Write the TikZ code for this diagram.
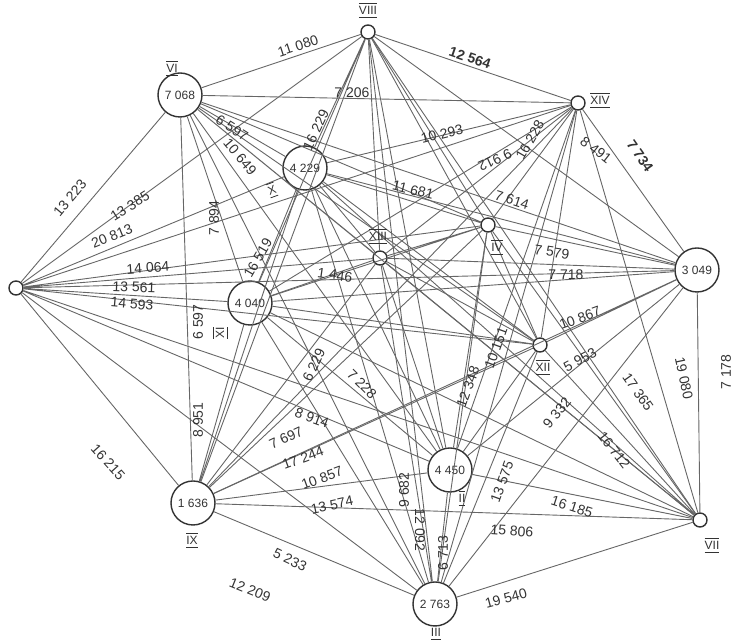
\documentclass[tikz,border=0pt]{standalone}
\usepackage{fontspec}
\setmainfont{Liberation Sans}
\usetikzlibrary{positioning}

\newcommand{\rnum}[1]{$\underline{\overline{\mbox{#1}}}$}

\begin{document}
\begin{tikzpicture}[x=0.5pt,y=-0.5pt, font=\fontsize{7}{8}\selectfont,
  big/.style={circle,draw=black!80,line width=0.7pt,fill=white,minimum size=22pt,inner sep=0pt,font=\fontsize{6}{7}\selectfont,text=black!80},
  dot/.style={circle,draw=black!80,line width=0.7pt,fill=white,minimum size=7pt,inner sep=0pt},
  ed/.style={draw=black!60,line width=0.45pt},
  wt/.style={inner sep=0.5pt,text=black!80},
  rn/.style={inner sep=0.5pt,text=black!80,font=\fontsize{6}{7}\selectfont}]
 \useasboundingbox (0,0) rectangle (736,640);
 % places
 \node[dot] (i) at (16,288) {};
 \node[big] (ii) at (450,470) {4 450};
 \node[big] (iii) at (435,604) {2 763};
 \node[dot] (iv) at (488,225) {};
 \node[big] (v) at (697,270) {3 049};
 \node[big] (vi) at (180,95) {7 068};
 \node[dot] (vii) at (700,520) {};
 \node[dot] (viii) at (368,32) {};
 \node[big] (ix) at (193,503) {1 636};
 \node[big] (x) at (305,168) {4 229};
 \node[big] (xi) at (250,303) {4 040};
 \node[dot] (xii) at (540,345) {};
 \node[dot] (xiii) at (380,258) {};
 \node[dot] (xiv) at (578,103) {};
 % all links
 \draw[ed] (i) -- (ii) (i) -- (iii) (i) -- (iv) (i) -- (v) (i) -- (vi) (i) -- (vii) (i) -- (viii) (i) -- (ix) (i) -- (x) (i) -- (xi) (i) -- (xii) (i) -- (xiii) (i) -- (xiv);
 \draw[ed] (ii) -- (iii) (ii) -- (iv) (ii) -- (v) (ii) -- (vi) (ii) -- (vii) (ii) -- (viii) (ii) -- (ix) (ii) -- (x) (ii) -- (xi) (ii) -- (xii) (ii) -- (xiii) (ii) -- (xiv);
 \draw[ed] (iii) -- (iv) (iii) -- (v) (iii) -- (vi) (iii) -- (vii) (iii) -- (viii) (iii) -- (ix) (iii) -- (x) (iii) -- (xi) (iii) -- (xii) (iii) -- (xiii) (iii) -- (xiv);
 \draw[ed] (iv) -- (v) (iv) -- (vi) (iv) -- (vii) (iv) -- (viii) (iv) -- (ix) (iv) -- (x) (iv) -- (xi) (iv) -- (xii) (iv) -- (xiii) (iv) -- (xiv);
 \draw[ed] (v) -- (vi) (v) -- (vii) (v) -- (viii) (v) -- (ix) (v) -- (x) (v) -- (xi) (v) -- (xii) (v) -- (xiii) (v) -- (xiv);
 \draw[ed] (vi) -- (vii) (vi) -- (viii) (vi) -- (ix) (vi) -- (x) (vi) -- (xi) (vi) -- (xii) (vi) -- (xiii) (vi) -- (xiv);
 \draw[ed] (vii) -- (viii) (vii) -- (ix) (vii) -- (x) (vii) -- (xi) (vii) -- (xii) (vii) -- (xiii) (vii) -- (xiv);
 \draw[ed] (viii) -- (ix) (viii) -- (x) (viii) -- (xi) (viii) -- (xii) (viii) -- (xiii) (viii) -- (xiv);
 \draw[ed] (ix) -- (x) (ix) -- (xi) (ix) -- (xii) (ix) -- (xiii) (ix) -- (xiv);
 \draw[ed] (x) -- (xi) (x) -- (xii) (x) -- (xiii) (x) -- (xiv);
 \draw[ed] (xi) -- (xii) (xi) -- (xiii) (xi) -- (xiv);
 \draw[ed] (xii) -- (xiii) (xii) -- (xiv);
 \draw[ed] (xiii) -- (xiv);
 % numerals
 \node[rn] (nviii) at (368,10) {\rnum{VIII}};
 \node[rn] (nvi) at (172,68) {\rnum{VI}};
 \node[rn] (nxiv) at (600,100) {\rnum{XIV}};
 \node[rn, rotate=20] (nx) at (272,190) {\rnum{X}};
 \node[rn] (nxiii) at (378,236) {\rnum{XIII}};
 \node[rn] (niv) at (497,247) {\rnum{IV}};
 \node[rn] (nxii) at (543,367) {\rnum{XII}};
 \node[rn, rotate=90] (nxi) at (220,333) {\rnum{XI}};
 \node[rn] (nii) at (462,498) {\rnum{II}};
 \node[rn] (nix) at (192,540) {\rnum{IX}};
 \node[rn] (nvii) at (712,545) {\rnum{VII}};
 \node[rn] (niii) at (436,632) {\rnum{III}};
 % distances
 \node[wt, rotate=18] (w1) at (298,46) {11 080};
 \node[wt, rotate=-19, font=\fontsize{7}{8}\bfseries] (w2) at (470,58) {12 564};
 \node[wt] (w3) at (352,93) {7 206};
 \node[wt, rotate=65] (w4) at (316,130) {16 229};
 \node[wt, rotate=-32] (w5) at (232,128) {6 597};
 \node[wt, rotate=-50] (w6) at (240,157) {10 649};
 \node[wt, rotate=14] (w7) at (442,134) {10 293};
 \node[wt, rotate=-14] (w8) at (413,190) {11 681};
 \node[wt, rotate=-155] (w9) at (495,160) {9 912};
 \node[wt, rotate=60] (w10) at (530,140) {16 228};
 \node[wt, rotate=-18] (w11) at (512,200) {7 614};
 \node[wt, rotate=-38] (w12) at (596,150) {8 491};
 \node[wt, rotate=-55, font=\fontsize{7}{8}\bfseries] (w13) at (640,156) {7 734};
 \node[wt, rotate=50] (w14) at (70,198) {13 223};
 \node[wt, rotate=32] (w15) at (130,206) {13 385};
 \node[wt, rotate=22] (w16) at (112,236) {20 813};
 \node[wt, rotate=4] (w17) at (148,268) {14 064};
 \node[wt, rotate=-2] (w18) at (134,287) {13 561};
 \node[wt, rotate=-5] (w19) at (132,304) {14 593};
 \node[wt, rotate=90] (w20) at (214,218) {7 894};
 \node[wt, rotate=60] (w21) at (258,258) {16 519};
 \node[wt, rotate=90] (w22) at (198,322) {6 597};
 \node[wt, rotate=90] (w23) at (198,420) {8 951};
 \node[wt, rotate=-48] (w24) at (108,462) {16 215};
 \node[wt, rotate=-20] (w25) at (312,418) {8 914};
 \node[wt, rotate=25] (w26) at (286,438) {7 697};
 \node[wt, rotate=20] (w27) at (303,458) {17 244};
 \node[wt, rotate=20] (w28) at (322,478) {10 857};
 \node[wt, rotate=12] (w29) at (332,505) {13 574};
 \node[wt, rotate=-25] (w30) at (290,560) {5 233};
 \node[wt, rotate=-22] (w31) at (250,590) {12 209};
 \node[wt, rotate=65] (w32) at (314,365) {6 229};
 \node[wt, rotate=-45] (w33) at (362,384) {7 228};
 \node[wt, rotate=-8] (w34) at (335,275) {1 446};
 \node[wt, rotate=70] (w35) at (468,387) {12 348};
 \node[wt, rotate=70] (w36) at (496,348) {10 151};
 \node[wt, rotate=20] (w37) at (580,318) {10 867};
 \node[wt, rotate=28] (w38) at (580,360) {5 953};
 \node[wt, rotate=50] (w39) at (557,413) {9 332};
 \node[wt, rotate=-55] (w40) at (638,392) {17 365};
 \node[wt, rotate=-52] (w41) at (614,450) {16 712};
 \node[wt, rotate=-18] (w42) at (572,507) {16 185};
 \node[wt, rotate=-4] (w43) at (512,531) {15 806};
 \node[wt, rotate=15] (w44) at (506,598) {19 540};
 \node[wt, rotate=-78] (w45) at (684,378) {19 080};
 \node[wt, rotate=90] (w46) at (726,372) {7 178};
 \node[wt, rotate=70] (w47) at (502,482) {13 575};
 \node[wt, rotate=90] (w48) at (443,553) {6 713};
 \node[wt, rotate=-90] (w49) at (420,530) {12 092};
 \node[wt, rotate=90] (w50) at (404,490) {9 682};
 \node[wt, rotate=-8] (w51) at (552,252) {7 579};
 \node[wt] (w52) at (566,275) {7 718};
\end{tikzpicture}
\end{document}
